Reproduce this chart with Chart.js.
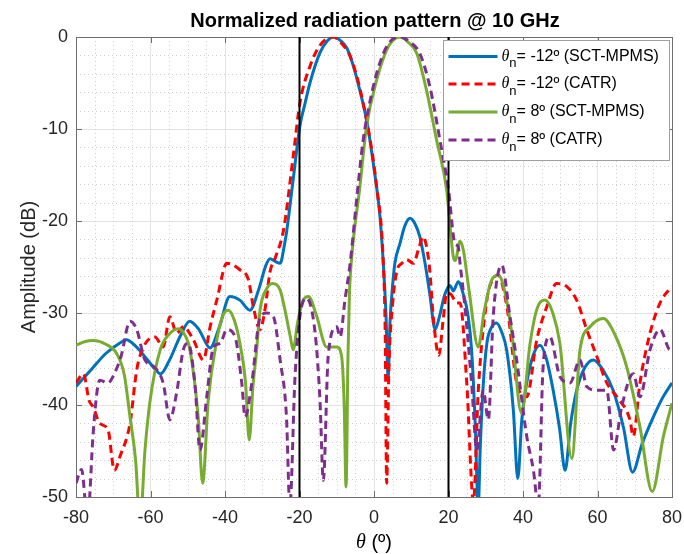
<!DOCTYPE html>
<html>
<head>
<meta charset="utf-8">
<script src="https://cdn.jsdelivr.net/npm/chart.js@4.4.1/dist/chart.umd.min.js"></script>
<style>
  html, body { margin: 0; background: #fff; }
</style>
</head>
<body>
<canvas id="chart" width="684" height="554"></canvas>
<script>
// angles in degrees, amplitudes in dB
const thetaBlue = [-80,-76,-72,-68,-66.5,-64,-61,-59,-57.3,-55,-52,-49.5,-47,-44,-41.5,-38.7,-36,-33.3,-31,-29,-27.9,-26.5,-25.2,-24,-23.4,-21.7,-19.9,-18.5,-17.2,-14.5,-12.5,-10.9,-9,-7.3,-5.5,-3.8,-2,-0.2,1.6,2.5,3.2,3.8,4.3,5,5.6,7,8.3,9.7,11,12.3,13.7,15,16.4,17.5,19,20.4,21.3,22.6,24,25.3,26.2,27.1,28,28.5,29.3,30.3,31.5,32.9,34.3,35.6,37.4,38.6,39.7,41,42.8,44.6,46.3,48.1,49.8,51.3,52.8,54.4,56.5,58.9,61.5,64.2,67,69.4,72,75,77.5,80];
const ampBlue = [-38,-36.2,-34.4,-33.2,-32.9,-33.6,-35,-36,-36.6,-35.2,-32.5,-30.9,-31.8,-33.8,-31.5,-28.2,-28.6,-29.7,-27.5,-24.8,-24.1,-24.4,-24.6,-22.5,-21,-15.5,-9.7,-7.2,-5,-1.7,-0.4,0,-0.4,-1.2,-3.2,-5.8,-9,-13.7,-19.5,-24.6,-30,-37,-31,-27,-24.6,-22.4,-20.5,-19.7,-20.3,-21.7,-24.6,-28,-31.8,-30.5,-28,-27,-27.6,-26.6,-28,-30.4,-34,-41.3,-51,-44.9,-38,-33.3,-31.6,-31.1,-32.1,-34,-40.5,-48,-41.5,-37.6,-34.5,-33.5,-35,-38.4,-42.5,-47.1,-42,-38.4,-36,-35.1,-36.2,-38.4,-42.5,-47.3,-44.2,-41.3,-39.2,-37.6];

const thetaRed = [-80,-78,-76.5,-75.4,-73.6,-71.4,-69.7,-68.2,-65.5,-63.7,-61.9,-58.8,-56.6,-54.8,-53,-51.2,-48.5,-45.8,-44,-42.2,-39.5,-36,-33.7,-32.4,-30.6,-29.3,-27.9,-26.5,-24.3,-21.7,-19.9,-17.2,-14.5,-10.9,-8.5,-6.4,-2.9,0.7,2.5,3,3.4,4,5,6.1,7.5,8.8,10.6,12,13.2,14.2,15,15.9,17.4,18.5,19.5,20.4,22.2,23.1,24.9,26.7,28,30.3,31.8,33.4,34.8,36.1,38.3,41,43.7,46.4,49,51.7,54.4,57.1,59.8,62.5,65.2,68.7,69.6,71.4,74.1,76.8,80];
const ampRed = [-37.6,-36.6,-39.5,-40.2,-42,-42.7,-47.1,-45.6,-42,-36.2,-33.7,-32.6,-33.7,-30.4,-32.2,-31.5,-32.9,-35.1,-31.5,-28.6,-24.6,-25.3,-26.4,-29.3,-31.8,-29.7,-25.5,-24,-21,-13,-7.2,-3.2,-0.9,0,-0.8,-2.1,-7.2,-16.3,-24.6,-32,-48.5,-36,-29,-25.5,-24.6,-24.2,-24.6,-23,-21.7,-23,-25.5,-30.4,-34.6,-31,-27.9,-27.9,-28.9,-28.9,-37.6,-50.5,-38.4,-28.6,-26.4,-25.9,-27.5,-30.4,-37.6,-39.1,-32.9,-29.3,-26.8,-27.1,-28.6,-31.8,-34.7,-37.6,-39.1,-41.6,-43.4,-37.6,-32.2,-28.9,-27.1];

const thetaGreen = [-80,-77.5,-75.4,-72,-69.1,-67,-65.5,-64,-62.8,-61.5,-60.1,-57.4,-55,-52.5,-50.5,-49.4,-47.2,-46,-44.5,-42.2,-40.5,-39.1,-37.5,-36,-34.5,-33.5,-32.5,-31.5,-30.6,-29,-27.2,-25.2,-24,-22.5,-21.7,-20.5,-19,-17.6,-15.5,-12.7,-10,-8.7,-8,-7.5,-7,-6.6,-6,-3.8,-2,0.7,3.4,5,7,9,11.5,14.1,16.8,19.5,21.3,21.8,23.1,24,25.5,28,29.5,31.5,33.4,35.3,37,39.6,41.9,43.8,45.9,48,49.9,53.1,55.3,58,61.6,64.5,67.8,71.4,74.7,77.7,80];
const ampGreen = [-33.5,-33.1,-33,-33.4,-34.4,-36.8,-41.3,-46,-53,-45,-39.5,-34,-32.3,-31.7,-32.6,-34,-41.3,-48.5,-39.5,-32.9,-30.2,-29.7,-30.8,-33.3,-37.5,-43.8,-38,-34,-29.7,-27.5,-26.8,-27.5,-29.5,-32.5,-34,-31,-28.6,-28.2,-30.2,-33.7,-33.7,-34.7,-40,-48.9,-35,-28,-24,-16.3,-9.7,-4.7,-1.4,-0.4,0,-0.5,-1.8,-5.8,-11.2,-16.6,-23.9,-24.3,-22.2,-23.2,-27.5,-33.7,-30,-26.5,-25.9,-28,-32.2,-40.9,-33.3,-29.5,-28.6,-30,-33.3,-45.8,-34,-31.5,-30.6,-32.2,-35.8,-42.4,-49.4,-43.4,-39.8];

const thetaPurple = [-80,-78.5,-77,-76.5,-75.4,-73.6,-71.4,-69.7,-67.9,-65.5,-63.7,-61.5,-59.2,-56.6,-54.8,-53,-51.2,-49.9,-48.1,-46.7,-44.9,-43.1,-41.3,-39.5,-37.3,-35.5,-34.6,-32.8,-30.6,-28.8,-27,-25.2,-23.5,-22.6,-21.2,-19.9,-18.1,-15.8,-14.5,-13.6,-12.3,-10,-9.1,-7.8,-6.4,-4.6,-2.9,-0.2,2.5,4.8,7,9.5,12.3,15,17.7,20,21.7,22.6,23.1,24.4,26.2,27.6,29.3,30.7,32,34.3,36.5,38.3,41,42.8,44.1,45.4,47.2,49.9,52.6,55.3,57.1,59.8,62.5,64.3,66.5,69.6,71.4,74.1,76.8,79.5,80];
const ampPurple = [-48.5,-47,-52,-51,-43.1,-37.3,-37.6,-36.6,-34.7,-30.9,-31.8,-35.1,-35.8,-37.6,-41.6,-38.7,-34,-33.3,-37.6,-44.9,-39.1,-33.7,-33.3,-31.8,-32.6,-37.6,-41.3,-37.6,-30.5,-30,-30.4,-35.1,-41.3,-51,-36.9,-30.4,-28.4,-32.2,-39.5,-48.2,-34.7,-31.5,-32.6,-28.6,-24.6,-17.4,-11.2,-5.4,-1.8,-0.3,0,-0.5,-1.8,-5.4,-11.2,-16.6,-22.4,-22.8,-24.6,-29.3,-37.6,-44.9,-38.4,-41.6,-30.4,-24.8,-30.4,-35.1,-43.4,-47.1,-51,-35.8,-32.6,-36.9,-37.6,-35.1,-38,-38.4,-38.4,-44.9,-40.2,-36.6,-39.1,-34,-31.8,-34,-33.8];

const sectorEdges = [-20, 20];
const xTicks = [-80, -60, -40, -20, 0, 20, 40, 60, 80];
const yTicks = [-50, -40, -30, -20, -10, 0];

const seriesNames = ['-12º (SCT-MPMS)', '-12º (CATR)', '8º (SCT-MPMS)', '8º (CATR)'];
const seriesColors = ['#0072BD', '#FF0000', '#77AC30', '#7E2F8E'];
const seriesDash = [[], [8, 5], [], [8, 5]];

function toPoints(t, a) {
  return t.map((x, i) => ({ x: x, y: a[i] }));
}

const FONT = '"Liberation Sans", Arial, sans-serif';
Chart.defaults.font.family = FONT;

const curves = [
  toPoints(thetaBlue, ampBlue),
  toPoints(thetaRed, ampRed),
  toPoints(thetaGreen, ampGreen),
  toPoints(thetaPurple, ampPurple)
];
const drawOrder = [3, 2, 1, 0];

const datasets = curves.map((pts, i) => ({
  label: seriesNames[i],
  data: pts,
  borderColor: seriesColors[i],
  borderWidth: 3,
  borderDash: seriesDash[i],
  pointRadius: 0,
  cubicInterpolationMode: 'monotone',
  order: drawOrder[i]
}));
sectorEdges.forEach(e => {
  datasets.push({
    label: 'edge',
    data: [{ x: e, y: -50 }, { x: e, y: 0 }],
    borderColor: '#000',
    borderWidth: 2,
    pointRadius: 0,
    order: -1
  });
});

// minor dotted grid, inner ticks and the top/right frame
const gridPlugin = {
  id: 'matlabGrid',
  beforeDatasetsDraw(chart) {
    const { ctx, chartArea: a, scales: { x, y } } = chart;
    ctx.save();
    ctx.strokeStyle = '#cfcfcf';
    ctx.lineWidth = 1;
    ctx.setLineDash([1, 3]);
    for (let v = -80; v <= 80; v += 5) {
      if (v % 20 === 0) continue;
      const px = Math.round(x.getPixelForValue(v)) + 0.5;
      ctx.beginPath(); ctx.moveTo(px, a.top); ctx.lineTo(px, a.bottom); ctx.stroke();
    }
    for (let v = -50; v <= 0; v += 2) {
      if (v % 10 === 0) continue;
      const py = Math.round(y.getPixelForValue(v)) + 0.5;
      ctx.beginPath(); ctx.moveTo(a.left, py); ctx.lineTo(a.right, py); ctx.stroke();
    }
    ctx.setLineDash([]);
    ctx.strokeStyle = '#6e6e6e';
    xTicks.forEach(v => {
      const px = Math.round(x.getPixelForValue(v)) + 0.5;
      ctx.beginPath();
      ctx.moveTo(px, a.bottom); ctx.lineTo(px, a.bottom - 6);
      ctx.moveTo(px, a.top); ctx.lineTo(px, a.top + 6);
      ctx.stroke();
    });
    yTicks.forEach(v => {
      const py = Math.round(y.getPixelForValue(v)) + 0.5;
      ctx.beginPath();
      ctx.moveTo(a.left, py); ctx.lineTo(a.left + 6, py);
      ctx.moveTo(a.right, py); ctx.lineTo(a.right - 6, py);
      ctx.stroke();
    });
    ctx.strokeRect(Math.round(a.left) + 0.5, Math.round(a.top) + 0.5,
      Math.round(a.right - a.left), Math.round(a.bottom - a.top));
    ctx.restore();
  }
};

// title, x label with italic theta, legend with subscript n
const textPlugin = {
  id: 'matlabText',
  afterDraw(chart) {
    const { ctx, chartArea: a } = chart;
    const cx = (a.left + a.right) / 2;
    ctx.save();
    ctx.fillStyle = '#000';
    ctx.textBaseline = 'middle';
    ctx.textAlign = 'center';
    ctx.font = 'bold 20px ' + FONT;
    ctx.fillText('Normalized radiation pattern @ 10 GHz', cx + 1, 21);

    // x axis title
    ctx.font = 'italic 20px "Liberation Serif", serif';
    const th = ctx.measureText('θ').width;
    ctx.font = '20px ' + FONT;
    const rest = ' (º)';
    const rw = ctx.measureText(rest).width;
    let sx = cx - (th + rw) / 2;
    ctx.textAlign = 'left';
    ctx.font = 'italic 20px "Liberation Serif", serif';
    ctx.fillText('θ', sx, 543);
    ctx.font = '20px ' + FONT;
    ctx.fillText(rest, sx + th, 543);

    // legend box
    const bw = 226, bh = 120;
    const bx = Math.round(a.right) - 3 - bw + 0.5, by = Math.round(a.top) + 3.5;
    ctx.fillStyle = '#fff';
    ctx.fillRect(bx, by, bw, bh);
    ctx.strokeStyle = '#a0a0a0';
    ctx.lineWidth = 1;
    ctx.strokeRect(bx, by, bw, bh);
    const rows = [16, 43.5, 71.5, 99.5];
    const lx = bx + 5;
    seriesNames.forEach((name, i) => {
      const ry = by + rows[i];
      ctx.strokeStyle = seriesColors[i];
      ctx.lineWidth = 3;
      ctx.setLineDash(seriesDash[i]);
      ctx.beginPath(); ctx.moveTo(lx, ry); ctx.lineTo(lx + 49, ry); ctx.stroke();
      ctx.setLineDash([]);
      ctx.fillStyle = '#000';
      ctx.font = 'italic 16px "Liberation Serif", serif';
      ctx.fillText('θ', lx + 53, ry);
      const tw = ctx.measureText('θ').width;
      ctx.font = '13px ' + FONT;
      ctx.fillText('n', lx + 53 + tw, ry + 7);
      const nw = ctx.measureText('n').width;
      ctx.font = '16px ' + FONT;
      ctx.fillText('= ' + name, lx + 53 + tw + nw, ry);
    });
    ctx.restore();
  }
};

new Chart(document.getElementById('chart'), {
  type: 'line',
  data: { datasets: datasets },
  options: {
    responsive: false,
    animation: false,
    devicePixelRatio: 1,
    layout: { padding: { top: 37, right: 12, left: 0, bottom: 0 } },
    plugins: {
      legend: { display: false },
      title: { display: false },
      tooltip: { enabled: false }
    },
    scales: {
      x: {
        type: 'linear',
        min: -80,
        max: 80,
        afterFit: s => { s.height = 57; s.paddingLeft = 0; s.paddingRight = 0; },
        afterBuildTicks: s => { s.ticks = xTicks.map(v => ({ value: v })); },
        ticks: { font: { size: 18 }, color: '#262626', padding: 10, maxRotation: 0 },
        grid: { color: '#e3e3e3', drawTicks: false },
        border: { display: false }
      },
      y: {
        min: -50,
        max: 0,
        afterFit: s => { s.width = 76; s.paddingTop = 0; s.paddingBottom = 0; },
        afterBuildTicks: s => { s.ticks = yTicks.map(v => ({ value: v })); },
        ticks: { font: { size: 18 }, color: '#262626', padding: 8 },
        grid: { color: '#e3e3e3', drawTicks: false },
        border: { display: false },
        title: {
          display: true,
          text: 'Amplitude (dB)',
          font: { size: 20 },
          color: '#262626',
          padding: { top: 17, bottom: 0 }
        }
      }
    }
  },
  plugins: [gridPlugin, textPlugin]
});
</script>
</body>
</html>
